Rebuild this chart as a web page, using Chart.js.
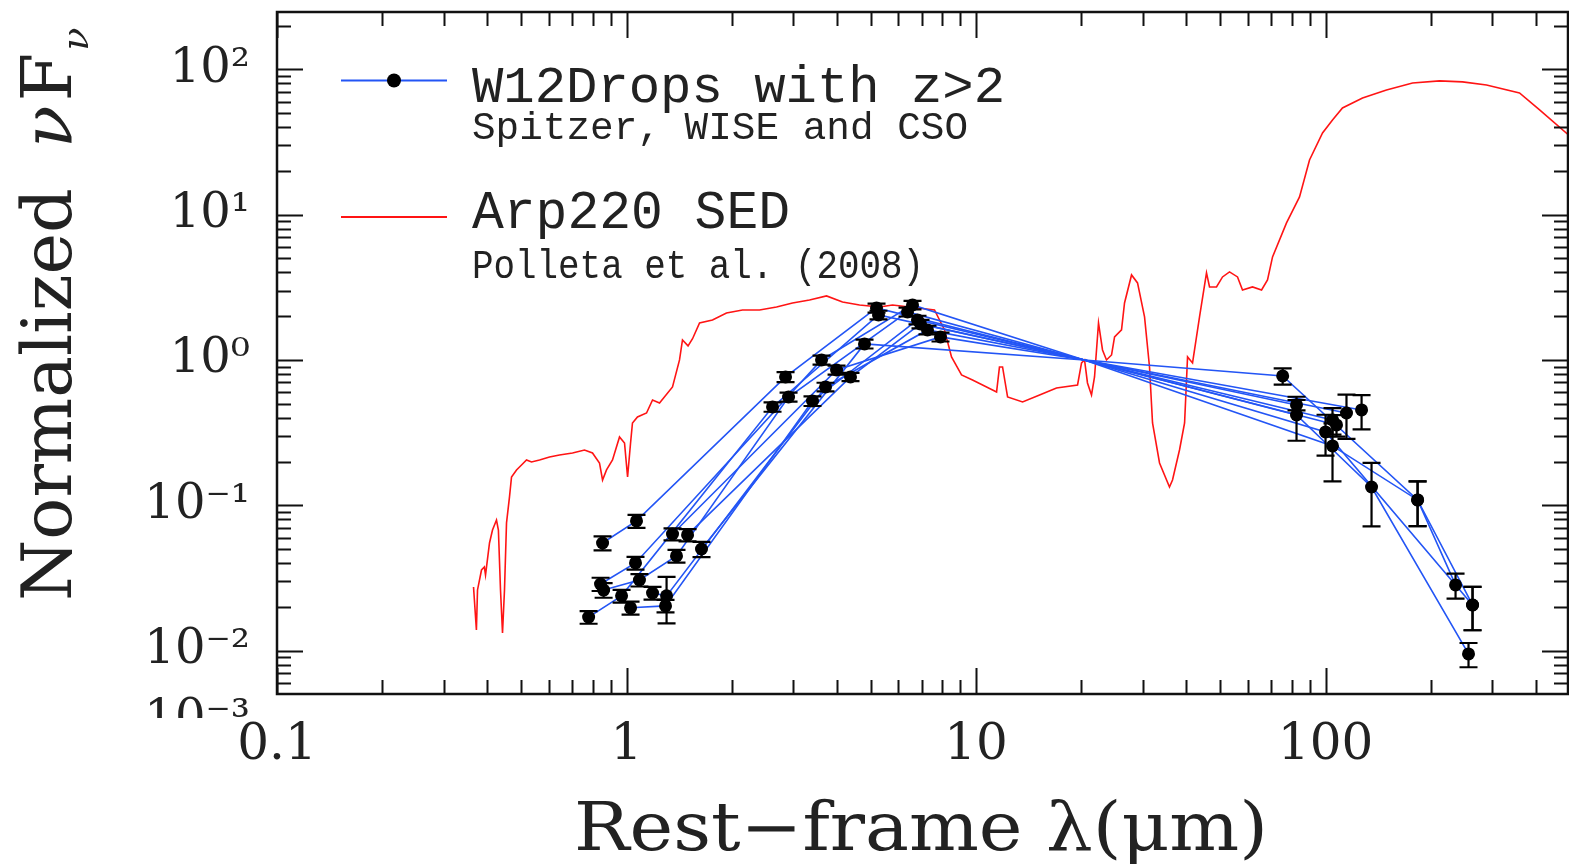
<!DOCTYPE html>
<html>
<head>
<meta charset="utf-8">
<script src="https://cdn.jsdelivr.net/npm/chart.js@4.4.0/dist/chart.umd.min.js"></script>
<style>
  html, body { margin: 0; padding: 0; background: #fff; }
  canvas { display: block; }
</style>
</head>
<body>
<canvas id="sedChart" width="1569" height="868"></canvas>
<script>
// Arp220 SED template (Polletta et al. 2008)
const arpLambda = [0.365, 0.372, 0.3747, 0.3847, 0.392, 0.395, 0.4055, 0.4136, 0.4246, 0.430,
  0.436, 0.4418, 0.4476, 0.4536, 0.4626, 0.4688, 0.4845, 0.5007, 0.5175, 0.5348,
  0.5638, 0.6022, 0.643, 0.7007, 0.7583, 0.7993, 0.8369, 0.854, 0.8766, 0.9119,
  0.955, 0.987, 1.007, 1.027, 1.040, 1.075, 1.141, 1.187, 1.243, 1.354,
  1.418, 1.446, 1.50, 1.545, 1.618, 1.762, 1.932, 2.147, 2.402, 2.687,
  2.985, 3.339, 3.735, 4.150, 4.642, 5.296, 5.768, 6.452, 7.607, 8.126,
  8.509, 9.090, 9.772, 10.72, 11.45, 11.67, 11.91, 12.31, 13.59, 15.20,
  16.99, 19.52, 20.04, 20.44, 20.84, 21.40, 21.83, 22.41, 23.01, 23.62,
  24.42, 24.91, 26.08, 26.60, 27.86, 28.98, 30.35, 31.36, 31.99, 33.50,
  35.77, 36.49, 38.21, 39.51, 40.29, 41.64, 43.60, 45.65, 46.57, 48.76,
  50.73, 53.12, 56.00, 57.87, 61.81, 65.61, 68.23, 70.53, 77.33, 84.25,
  89.99, 98.04, 104.7, 111.8, 127.6, 149.4, 177.4, 211.9, 246.6, 288.8,
  358.9, 409.7, 495.7];
const arpFlux = [0.0274, 0.01386, 0.02613, 0.03587, 0.0376, 0.0331, 0.0550, 0.0676, 0.0792, 0.0676,
  0.02613, 0.01322, 0.02613, 0.0756, 0.1141, 0.1566, 0.175, 0.1894, 0.205, 0.1986,
  0.205, 0.2149, 0.2219, 0.2291, 0.2402, 0.2291, 0.1955, 0.1493, 0.175, 0.205,
  0.2952, 0.2684, 0.1566, 0.2684, 0.3684, 0.4053, 0.4316, 0.5305, 0.5059, 0.652,
  1.0, 1.373, 1.25, 1.40, 1.797, 1.885, 2.106, 2.209, 2.209, 2.317,
  2.468, 2.588, 2.757, 2.507, 2.391, 2.317, 2.391, 2.317, 2.209, 1.609,
  1.049, 0.7885, 0.7285, 0.652, 0.6024, 0.895, 0.895, 0.556, 0.514, 0.574,
  0.6418, 0.6729, 0.9536, 1.0, 0.6945, 0.574, 0.764, 1.797, 1.172, 1.0,
  1.082, 1.440, 1.609, 2.468, 3.846, 3.388, 1.977, 0.895, 0.3684, 0.1955,
  0.1336, 0.1493, 0.2402, 0.3684, 1.049, 0.9536, 1.977, 3.969, 3.180, 3.180,
  3.726, 4.033, 3.726, 3.032, 3.180, 3.032, 3.553, 5.116, 8.767, 13.24,
  23.79, 36.50, 44.86, 54.25, 63.57, 72.14, 80.61, 83.21, 81.90, 78.09,
  68.80, 52.55, 35.36];

// W12Drops with z>2: rest-frame wavelength (um), normalized nuFnu, 1-sigma error
const normLam = 20.4;
const lamS1 = [0.854, 1.068, 2.851, 5.192, normLam, 75.4, 183.4, 235.5];
const fluxS1 = [0.055, 0.078, 0.764, 2.28, 1.0, 0.776, 0.1088, 0.0283];
const errS1 = [0.006, 0.008, 0.06, 0.16, 0, 0.10, 0.037, 0.0055];

const lamS2 = [0.779, 0.968, 2.617, 5.26, normLam, 82.6];
const fluxS2 = [0.017, 0.0238, 0.475, 2.04, 1.0, 0.49];
const errS2 = [0.0017, 0.0024, 0.035, 0.14, 0, 0.04];

const lamS3 = [0.843, 1.061, 3.614, 6.581, normLam, 82.6, 135.4, 256.5];
const fluxS3 = [0.0287, 0.0401, 1.0, 2.391, 1.0, 0.418, 0.1336, 0.00948];
const errS3 = [0.003, 0.004, 0.07, 0.16, 0, 0.14, 0.062, 0.0018];

const lamS4 = [0.86, 1.089, 1.39, 2.908, 6.368, normLam, 100.0, 263.4];
const fluxS4 = [0.0261, 0.0306, 0.0448, 0.556, 2.14, 1.0, 0.3195, 0.0206];
const errS4 = [0.003, 0.003, 0.0045, 0.04, 0.15, 0, 0.10, 0.0068];

const lamS5 = [1.027, 1.293, 3.405, 6.801, normLam, 104.7, 183.4, 263.4];
const fluxS5 = [0.0197, 0.0203, 0.522, 1.885, 1.0, 0.256, 0.1088, 0.0206];
const errS5 = [0.002, 0.002, 0.04, 0.13, 0, 0.11, 0.037, 0.0068];

const lamS6 = [1.187, 1.302, 3.71, 7.264, normLam, 114.8];
const fluxS6 = [0.0249, 0.0238, 0.652, 1.609, 1.0, 0.4316];
const errS6 = [0.0025, 0.0084, 0.045, 0.11, 0, 0.145];

const lamS7 = [1.354, 3.99, 7.914, normLam, 126.8];
const fluxS7 = [0.0634, 0.853, 1.44, 1.0, 0.4527];
const errS7 = [0.006, 0.06, 0.1, 0, 0.12];

const lamS8 = [1.495, 4.374, 6.937, normLam, 104.7];
const fluxS8 = [0.0625, 0.764, 1.769, 1.0, 0.386];
const errS8 = [0.006, 0.05, 0.12, 0, 0.08];

const lamS9 = [1.639, 4.797, normLam, 107.5];
const fluxS9 = [0.05, 1.289, 1.0, 0.357];
const errS9 = [0.006, 0.09, 0, 0.06];

const xTicks = [0.1, 1, 10, 100];
const xTickLabels = ['0.1', '1', '10', '100'];
const yTicks = [0.01, 0.1, 1, 10, 100];
const yTickLabels = ['10\u207B\u00B2', '10\u207B\u00B9', '10\u2070', '10\u00B9', '10\u00B2'];

const blue = 'rgb(35, 85, 245)';
const red = 'rgb(255, 20, 20)';
const serif = '"DejaVu Serif", serif';
const mono = '"Liberation Mono", monospace';

const sources = [
  [lamS1, fluxS1, errS1], [lamS2, fluxS2, errS2], [lamS3, fluxS3, errS3],
  [lamS4, fluxS4, errS4], [lamS5, fluxS5, errS5], [lamS6, fluxS6, errS6],
  [lamS7, fluxS7, errS7], [lamS8, fluxS8, errS8], [lamS9, fluxS9, errS9]
];

// markers (all measured points, not the normalization point)
const markerPts = [];
const markerErr = [];
sources.forEach(([lam, flux, err]) => {
  lam.forEach((l, i) => {
    if (l === normLam) return;
    markerPts.push({ x: l, y: flux[i] });
    markerErr.push(err[i]);
  });
});

const datasets = [{
  label: 'W12Drops points',
  data: markerPts,
  errY: markerErr,
  showLine: false,
  pointRadius: 6.5,
  pointBackgroundColor: '#000',
  pointBorderColor: '#000',
  pointBorderWidth: 0
}];
sources.forEach(([lam, flux], k) => {
  datasets.push({
    label: 'W12Drop ' + (k + 1),
    data: lam.map((l, i) => ({ x: l, y: flux[i] })),
    borderColor: blue,
    borderWidth: 1.6,
    pointRadius: 0,
    tension: 0
  });
});
datasets.push({
  label: 'Arp220 SED',
  data: arpLambda.map((l, i) => ({ x: l, y: arpFlux[i] })),
  borderColor: red,
  borderWidth: 1.6,
  pointRadius: 0,
  tension: 0
});

// text squeezed or stretched to a given width
function fitText(ctx, text, x, y, width) {
  const w = ctx.measureText(text).width;
  ctx.save();
  ctx.translate(x, y);
  ctx.scale(width / w, 1);
  ctx.fillText(text, 0, 0);
  ctx.restore();
}

// error bars from errY
const errorBars = {
  id: 'errorBars',
  afterDatasetsDraw(chart) {
    const { ctx, scales: { x, y } } = chart;
    ctx.save();
    ctx.strokeStyle = '#000';
    ctx.lineWidth = 2.2;
    chart.data.datasets.forEach(ds => {
      if (!ds.errY) return;
      ds.data.forEach((p, i) => {
        const e = ds.errY[i];
        if (!e) return;
        const px = x.getPixelForValue(p.x);
        const top = y.getPixelForValue(p.y + e);
        const bot = y.getPixelForValue(Math.max(p.y - e, p.y * 0.05));
        ctx.beginPath();
        ctx.moveTo(px, top); ctx.lineTo(px, bot);
        ctx.moveTo(px - 9, top); ctx.lineTo(px + 9, top);
        ctx.moveTo(px - 9, bot); ctx.lineTo(px + 9, bot);
        ctx.stroke();
      });
    });
    ctx.restore();
  }
};

// box with inward ticks on all four sides, legend and axis titles
const frameAndText = {
  id: 'frameAndText',
  afterDraw(chart) {
    const { ctx, chartArea: a, scales: { x, y } } = chart;
    ctx.save();
    ctx.strokeStyle = '#111';
    ctx.lineWidth = 2.5;
    ctx.strokeRect(a.left, a.top, a.right - a.left, a.bottom - a.top);
    ctx.lineWidth = 2;
    ctx.beginPath();
    for (let e = -1; e <= 2; e++) {
      for (let k = 1; k <= 9; k++) {
        const v = k * Math.pow(10, e);
        if (v < x.min || v > x.max) continue;
        const px = Math.round(x.getPixelForValue(v)) + 0.5;
        const len = k === 1 ? 26 : 14;
        ctx.moveTo(px, a.bottom); ctx.lineTo(px, a.bottom - len);
        ctx.moveTo(px, a.top); ctx.lineTo(px, a.top + len);
      }
    }
    for (let e = -3; e <= 2; e++) {
      for (let k = 1; k <= 9; k++) {
        const v = k * Math.pow(10, e);
        if (v < y.min || v > y.max) continue;
        const py = Math.round(y.getPixelForValue(v)) + 0.5;
        const len = k === 1 ? 26 : 14;
        ctx.moveTo(a.left, py); ctx.lineTo(a.left + len, py);
        ctx.moveTo(a.right, py); ctx.lineTo(a.right - len, py);
      }
    }
    ctx.stroke();

    // legend
    ctx.lineWidth = 2;
    ctx.strokeStyle = blue;
    ctx.beginPath(); ctx.moveTo(341, 80.5); ctx.lineTo(447, 80.5); ctx.stroke();
    ctx.fillStyle = '#000';
    ctx.beginPath(); ctx.arc(394, 80.5, 7, 0, Math.PI * 2); ctx.fill();
    ctx.strokeStyle = red;
    ctx.beginPath(); ctx.moveTo(341, 217); ctx.lineTo(447, 217); ctx.stroke();

    ctx.fillStyle = '#222';
    ctx.textAlign = 'left';
    ctx.textBaseline = 'alphabetic';
    ctx.font = '52px ' + mono;
    fitText(ctx, 'W12Drops with z>2', 472, 102, 533);
    ctx.font = '39px ' + mono;
    fitText(ctx, 'Spitzer, WISE and CSO', 472, 139, 496);
    ctx.font = '53px ' + mono;
    fitText(ctx, 'Arp220 SED', 472, 228, 318);
    ctx.font = '40px ' + mono;
    fitText(ctx, 'Polleta et al. (2008)', 472, 278, 452);

    // label of the 10^-3 decade, mostly hidden under the axis in the original
    ctx.save();
    ctx.beginPath();
    ctx.rect(120, a.bottom + 2, 150, 22);
    ctx.clip();
    ctx.font = '48px ' + serif;
    ctx.textAlign = 'right';
    ctx.fillText('10\u207B\u00B3', 250, a.bottom + 39);
    ctx.restore();

    // axis titles
    ctx.font = '67px ' + serif;
    fitText(ctx, 'Rest\u2212frame \u03BB(\u03BCm)', 574, 850, 694);

    ctx.translate(71, 601);
    ctx.rotate(-Math.PI / 2);
    ctx.font = '70px ' + serif;
    const first = 'Normalized ';
    ctx.fillText(first, 0, 0);
    let w = ctx.measureText(first).width + 18;
    ctx.font = 'italic 70px ' + serif;
    ctx.fillText('\u03BD', w, 0);
    w += ctx.measureText('\u03BD').width + 4;
    ctx.font = '70px ' + serif;
    ctx.fillText('F', w, 0);
    w += ctx.measureText('F').width + 2;
    ctx.font = 'italic 38px ' + serif;
    ctx.fillText('\u03BD', w, 17);
    ctx.restore();
  }
};

new Chart(document.getElementById('sedChart'), {
  type: 'line',
  data: { datasets: datasets },
  plugins: [errorBars, frameAndText],
  options: {
    responsive: false,
    animation: false,
    devicePixelRatio: 1,
    layout: { autoPadding: false, padding: { top: 12, right: 1, left: 0, bottom: 0 } },
    plugins: { legend: { display: false }, tooltip: { enabled: false } },
    scales: {
      x: {
        type: 'logarithmic',
        min: 0.1,
        max: 494,
        bounds: 'data',
        grid: { display: false, drawTicks: false },
        border: { display: false },
        afterBuildTicks: s => { s.ticks = xTicks.map(v => ({ value: v })); },
        afterFit: s => { s.height = 174; s.paddingLeft = 0; s.paddingRight = 0; },
        ticks: {
          font: { family: serif, size: 50 },
          color: '#222',
          padding: 22,
          maxRotation: 0,
          autoSkip: false,
          callback: (v, i) => xTickLabels[i]
        }
      },
      y: {
        type: 'logarithmic',
        min: 0.005026,
        max: 248,
        bounds: 'data',
        grid: { display: false, drawTicks: false },
        border: { display: false },
        afterBuildTicks: s => { s.ticks = yTicks.map(v => ({ value: v })); },
        afterFit: s => { s.width = 277; s.paddingTop = 0; s.paddingBottom = 0; },
        ticks: {
          font: { family: serif, size: 48 },
          color: '#222',
          padding: 27,
          autoSkip: false,
          callback: (v, i) => yTickLabels[i]
        }
      }
    }
  }
});
</script>
</body>
</html>
